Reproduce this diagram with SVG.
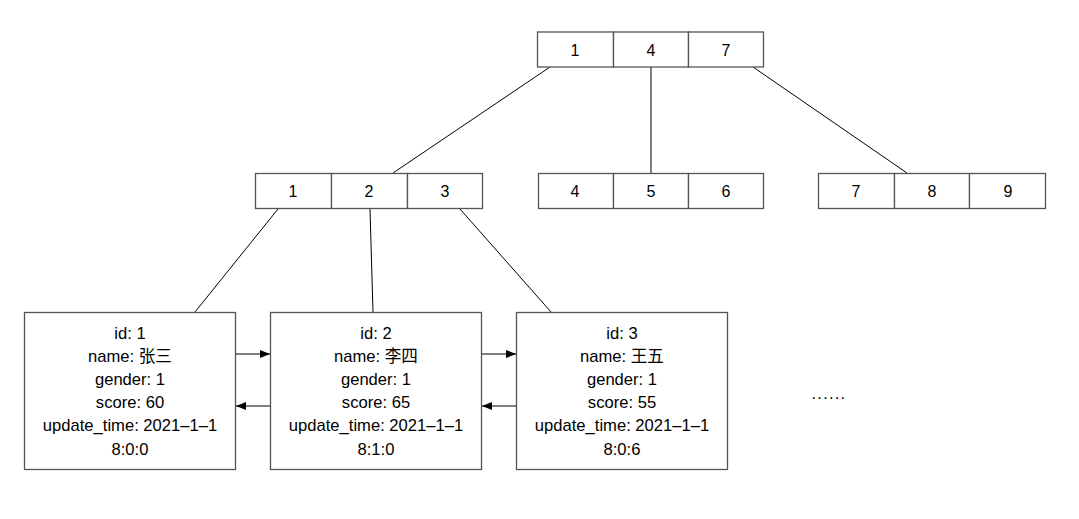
<svg xmlns="http://www.w3.org/2000/svg" width="1079" height="519" viewBox="0 0 1079 519">
<defs>
<marker id="ah" viewBox="0 0 10 10" refX="10" refY="5" markerWidth="10" markerHeight="10" markerUnits="userSpaceOnUse" orient="auto">
<path d="M0,1 L10,5 L0,9 Z" fill="#000"/>
</marker>
</defs>
<style>
.cell{fill:#fff;stroke:#555;stroke-width:1.3}
.num{font-family:"Liberation Sans",Arial,sans-serif;font-size:16px;fill:#000;text-anchor:middle;dominant-baseline:central}
.rec{fill:#fff;stroke:#555;stroke-width:1.3}
.t{font-family:"Liberation Sans","Noto Sans CJK SC",sans-serif;font-size:16.6px;fill:#000;text-anchor:middle;dominant-baseline:central}
.ln{stroke:#000;stroke-width:1;fill:none}
.ar{stroke:#000;stroke-width:1;fill:none;marker-end:url(#ah)}
</style>
<rect width="1079" height="519" fill="#fff"/>
<g id="connectors">
<line class="ln" x1="550" y1="67" x2="393" y2="173"/>
<line class="ln" x1="651" y1="67" x2="651" y2="173"/>
<line class="ln" x1="753" y1="67" x2="907" y2="173"/>
<line class="ln" x1="278" y1="209" x2="195" y2="312"/>
<line class="ln" x1="370" y1="209" x2="373" y2="312"/>
<line class="ln" x1="460" y1="209" x2="551" y2="312"/>
<line class="ar" x1="236" y1="354" x2="270" y2="354"/>
<line class="ar" x1="270" y1="406" x2="236" y2="406"/>
<line class="ar" x1="482" y1="354" x2="516" y2="354"/>
<line class="ar" x1="516" y1="406" x2="482" y2="406"/>
</g>
<g id="root">
<rect class="cell" x="537.5" y="32" width="76" height="35"/>
<rect class="cell" x="613.5" y="32" width="75" height="35"/>
<rect class="cell" x="688.5" y="32" width="75" height="35"/>
<text class="num" x="575" y="50">1</text>
<text class="num" x="651" y="50">4</text>
<text class="num" x="726" y="50">7</text>
</g>
<g id="inner-left">
<rect class="cell" x="255.5" y="173.5" width="76" height="35"/>
<rect class="cell" x="331.5" y="173.5" width="76" height="35"/>
<rect class="cell" x="407.5" y="173.5" width="75" height="35"/>
<text class="num" x="293" y="191">1</text>
<text class="num" x="369" y="191">2</text>
<text class="num" x="445" y="191">3</text>
</g>
<g id="inner-mid">
<rect class="cell" x="538.5" y="173.5" width="75" height="35"/>
<rect class="cell" x="613.5" y="173.5" width="75" height="35"/>
<rect class="cell" x="688.5" y="173.5" width="75" height="35"/>
<text class="num" x="575" y="191">4</text>
<text class="num" x="651" y="191">5</text>
<text class="num" x="726" y="191">6</text>
</g>
<g id="inner-right">
<rect class="cell" x="818.5" y="173.5" width="76" height="35"/>
<rect class="cell" x="894.5" y="173.5" width="75" height="35"/>
<rect class="cell" x="969.5" y="173.5" width="76" height="35"/>
<text class="num" x="856" y="191">7</text>
<text class="num" x="932" y="191">8</text>
<text class="num" x="1008" y="191">9</text>
</g>
<g id="leaf1">
<rect class="rec" x="24.5" y="312.5" width="211" height="157"/>
<text class="t" x="130" y="333">id: 1</text>
<text class="t" x="130" y="356">name: 张三</text>
<text class="t" x="130" y="379">gender: 1</text>
<text class="t" x="130" y="402">score: 60</text>
<text class="t" x="130" y="425">update_time: 2021–1–1</text>
<text class="t" x="130" y="449">8:0:0</text>
</g>
<g id="leaf2">
<rect class="rec" x="270.5" y="312.5" width="211" height="157"/>
<text class="t" x="376" y="333">id: 2</text>
<text class="t" x="376" y="356">name: 李四</text>
<text class="t" x="376" y="379">gender: 1</text>
<text class="t" x="376" y="402">score: 65</text>
<text class="t" x="376" y="425">update_time: 2021–1–1</text>
<text class="t" x="376" y="449">8:1:0</text>
</g>
<g id="leaf3">
<rect class="rec" x="516.5" y="312.5" width="211" height="157"/>
<text class="t" x="622" y="333">id: 3</text>
<text class="t" x="622" y="356">name: 王五</text>
<text class="t" x="622" y="379">gender: 1</text>
<text class="t" x="622" y="402">score: 55</text>
<text class="t" x="622" y="425">update_time: 2021–1–1</text>
<text class="t" x="622" y="449">8:0:6</text>
</g>
<g id="ellipsis">
<text class="t" x="829" y="393" style="letter-spacing:1.2px">......</text>
</g>
</svg>
